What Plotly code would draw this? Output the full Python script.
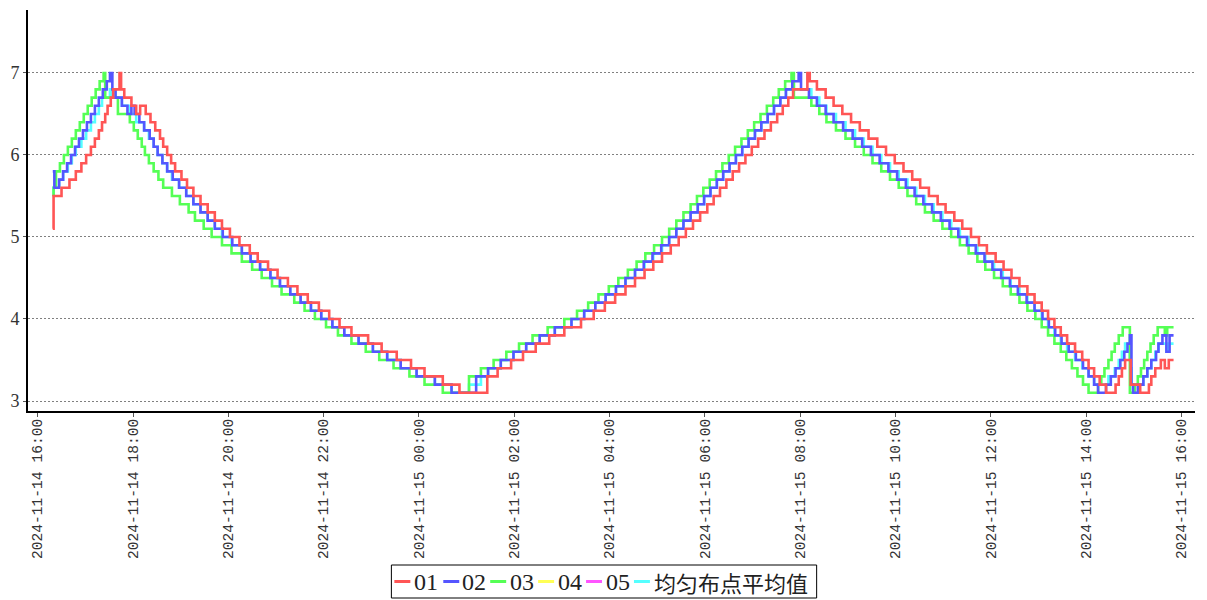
import numpy as np
import pandas as pd
import plotly.graph_objects as go

BASE = pd.Timestamp("2024-11-14 16:00")

# ---- data: (minutes after 2024-11-14 16:00, value) at each change of the stepped series ----
red_steps = [
    (19, 5.1), (20, 5.5), (30, 5.6), (40, 5.7), (48, 5.8), (55, 5.9), (61, 6.0), (67, 6.1), (72, 6.2), (77, 6.3),
    (81, 6.4), (85, 6.5), (88, 6.6), (92, 6.7), (95, 6.8), (103, 7.0), (105, 6.8), (109, 6.7), (118, 6.6), (124, 6.5),
    (129, 6.6), (136, 6.5), (142, 6.4), (148, 6.3), (154, 6.2), (158, 6.1), (163, 6.0), (168, 5.9), (173, 5.8), (181, 5.7),
    (188, 5.6), (196, 5.5), (205, 5.4), (214, 5.3), (223, 5.2), (232, 5.1), (242, 5.0), (254, 4.9), (267, 4.8), (277, 4.7),
    (290, 4.6), (302, 4.5), (315, 4.4), (327, 4.3), (340, 4.2), (354, 4.1), (367, 4.0), (380, 3.9), (395, 3.8), (416, 3.7),
    (433, 3.6), (452, 3.5), (470, 3.4), (487, 3.3), (510, 3.2), (531, 3.1), (566, 3.3), (579, 3.4), (596, 3.5), (611, 3.6),
    (627, 3.7), (644, 3.8), (663, 3.9), (684, 4.0), (700, 4.1), (714, 4.2), (727, 4.3), (740, 4.4), (752, 4.5), (764, 4.6),
    (775, 4.7), (786, 4.8), (797, 4.9), (807, 5.0), (816, 5.1), (825, 5.2), (834, 5.3), (843, 5.4), (851, 5.5), (859, 5.6),
    (867, 5.7), (875, 5.8), (883, 5.9), (891, 6.0), (899, 6.1), (907, 6.2), (915, 6.3), (923, 6.4), (931, 6.5), (938, 6.6),
    (945, 6.7), (951, 6.8), (969, 7.0), (972, 6.9), (981, 6.8), (992, 6.7), (1002, 6.6), (1013, 6.5), (1024, 6.4), (1035, 6.3),
    (1046, 6.2), (1057, 6.1), (1068, 6.0), (1079, 5.9), (1090, 5.8), (1101, 5.7), (1111, 5.6), (1122, 5.5), (1133, 5.4), (1143, 5.3),
    (1154, 5.2), (1164, 5.1), (1175, 5.0), (1185, 4.9), (1195, 4.8), (1206, 4.7), (1216, 4.6), (1226, 4.5), (1236, 4.4), (1246, 4.3),
    (1255, 4.2), (1264, 4.1), (1272, 4.0), (1280, 3.9), (1288, 3.8), (1296, 3.7), (1306, 3.6), (1315, 3.5), (1323, 3.4), (1330, 3.3),
    (1337, 3.2), (1345, 3.1), (1357, 3.2), (1361, 3.3), (1365, 3.4), (1369, 3.5), (1376, 3.2), (1388, 3.1), (1399, 3.2), (1402, 3.3),
    (1407, 3.4), (1414, 3.5), (1419, 3.4), (1424, 3.5), (1430, 3.5),
]

blue_steps = [
    (19, 5.8), (21, 5.6), (27, 5.7), (32, 5.8), (37, 5.9), (42, 6.0), (47, 6.1), (52, 6.2), (57, 6.3), (62, 6.4),
    (67, 6.5), (72, 6.6), (77, 6.7), (82, 6.8), (87, 6.9), (91, 7.0), (94, 6.8), (98, 6.7), (106, 6.6), (113, 6.5),
    (118, 6.6), (122, 6.5), (128, 6.4), (134, 6.3), (141, 6.2), (146, 6.1), (151, 6.0), (157, 5.9), (163, 5.8), (170, 5.7),
    (178, 5.6), (187, 5.5), (196, 5.4), (205, 5.3), (214, 5.2), (223, 5.1), (233, 5.0), (245, 4.9), (257, 4.8), (268, 4.7),
    (280, 4.6), (293, 4.5), (305, 4.4), (318, 4.3), (331, 4.2), (344, 4.1), (357, 4.0), (371, 3.9), (386, 3.8), (404, 3.7),
    (422, 3.6), (440, 3.5), (457, 3.4), (477, 3.3), (500, 3.2), (521, 3.1), (552, 3.3), (567, 3.4), (583, 3.5), (599, 3.6),
    (615, 3.7), (632, 3.8), (651, 3.9), (672, 4.0), (688, 4.1), (702, 4.2), (715, 4.3), (728, 4.4), (740, 4.5), (752, 4.6),
    (763, 4.7), (774, 4.8), (785, 4.9), (795, 5.0), (804, 5.1), (813, 5.2), (822, 5.3), (831, 5.4), (839, 5.5), (847, 5.6),
    (855, 5.7), (863, 5.8), (871, 5.9), (879, 6.0), (887, 6.1), (895, 6.2), (903, 6.3), (911, 6.4), (919, 6.5), (927, 6.6),
    (935, 6.7), (942, 6.8), (950, 6.9), (958, 7.0), (961, 6.8), (971, 6.7), (981, 6.6), (992, 6.5), (1002, 6.4), (1014, 6.3),
    (1026, 6.2), (1038, 6.1), (1049, 6.0), (1060, 5.9), (1071, 5.8), (1082, 5.7), (1093, 5.6), (1104, 5.5), (1115, 5.4), (1126, 5.3),
    (1137, 5.2), (1148, 5.1), (1159, 5.0), (1170, 4.9), (1181, 4.8), (1192, 4.7), (1202, 4.6), (1213, 4.5), (1224, 4.4), (1234, 4.3),
    (1245, 4.2), (1255, 4.1), (1265, 4.0), (1273, 3.9), (1281, 3.8), (1289, 3.7), (1298, 3.6), (1307, 3.5), (1316, 3.4), (1323, 3.3),
    (1330, 3.2), (1335, 3.1), (1345, 3.2), (1351, 3.3), (1357, 3.4), (1363, 3.5), (1368, 3.6), (1372, 3.7), (1375, 3.8), (1377, 3.2),
    (1379, 3.1), (1385, 3.2), (1392, 3.3), (1397, 3.4), (1402, 3.5), (1408, 3.6), (1411, 3.7), (1416, 3.8), (1421, 3.6), (1425, 3.8),
    (1430, 3.8),
]

green_steps = [
    (19, 5.5), (20, 5.6), (23, 5.8), (28, 5.9), (33, 6.0), (38, 6.1), (43, 6.2), (48, 6.3), (53, 6.4), (58, 6.5),
    (63, 6.6), (68, 6.7), (73, 6.8), (78, 6.9), (83, 7.0), (85, 6.7), (101, 6.5), (116, 6.4), (121, 6.3), (126, 6.2),
    (131, 6.1), (135, 6.0), (140, 5.9), (146, 5.8), (152, 5.7), (158, 5.6), (169, 5.5), (179, 5.4), (190, 5.3), (198, 5.2),
    (209, 5.1), (219, 5.0), (232, 4.9), (244, 4.8), (257, 4.7), (270, 4.6), (282, 4.5), (295, 4.4), (307, 4.3), (323, 4.2),
    (336, 4.1), (349, 4.0), (363, 3.9), (378, 3.8), (395, 3.7), (413, 3.6), (430, 3.5), (448, 3.4), (468, 3.3), (487, 3.2),
    (510, 3.1), (543, 3.3), (558, 3.4), (574, 3.5), (590, 3.6), (606, 3.7), (623, 3.8), (642, 3.9), (663, 4.0), (679, 4.1),
    (693, 4.2), (706, 4.3), (719, 4.4), (731, 4.5), (743, 4.6), (754, 4.7), (765, 4.8), (776, 4.9), (786, 5.0), (795, 5.1),
    (804, 5.2), (813, 5.3), (822, 5.4), (830, 5.5), (838, 5.6), (846, 5.7), (854, 5.8), (862, 5.9), (870, 6.0), (878, 6.1),
    (886, 6.2), (894, 6.3), (902, 6.4), (910, 6.5), (918, 6.6), (926, 6.7), (933, 6.8), (941, 6.9), (949, 7.0), (952, 6.7),
    (974, 6.6), (984, 6.5), (993, 6.4), (1005, 6.3), (1017, 6.2), (1029, 6.1), (1040, 6.0), (1051, 5.9), (1062, 5.8), (1073, 5.7),
    (1084, 5.6), (1095, 5.5), (1106, 5.4), (1117, 5.3), (1128, 5.2), (1139, 5.1), (1150, 5.0), (1161, 4.9), (1172, 4.8), (1183, 4.7),
    (1193, 4.6), (1204, 4.5), (1215, 4.4), (1225, 4.3), (1236, 4.2), (1246, 4.1), (1256, 4.0), (1264, 3.9), (1272, 3.8), (1280, 3.7),
    (1288, 3.6), (1295, 3.5), (1302, 3.4), (1309, 3.3), (1316, 3.2), (1323, 3.1), (1335, 3.2), (1339, 3.3), (1343, 3.4), (1348, 3.5),
    (1352, 3.6), (1356, 3.7), (1361, 3.8), (1366, 3.9), (1375, 3.1), (1381, 3.2), (1385, 3.3), (1389, 3.4), (1393, 3.5), (1397, 3.6),
    (1401, 3.7), (1405, 3.8), (1410, 3.9), (1419, 3.8), (1422, 3.9), (1430, 3.9),
]

series_names = ["01", "02", "03", "04", "05", "均匀布点平均值"]
series_colors = ["#FF5555", "#5555FF", "#55FF55", "#FFFF55", "#FF55FF", "#55FFFF"]
y_ticks = [3, 4, 5, 6, 7]
x_tick_start = "2024-11-14 16:00"
x_tick_end = "2024-11-15 16:00"


def split(steps):
    m = np.array([s[0] for s in steps], dtype=float)
    v = np.array([s[1] for s in steps], dtype=float)
    return m, v


red_min, red_val = split(red_steps)
blue_min, blue_val = split(blue_steps)
green_min, green_val = split(green_steps)


def to_time(mins):
    return BASE + pd.to_timedelta(np.asarray(mins, dtype=float), unit="min")


def step_values(mins, vals, grid):
    idx = np.searchsorted(mins, grid, side="right") - 1
    return vals[idx]


# "均匀布点平均值" is by definition the mean of the stations that report (04 / 05 have no data)
grid = np.arange(19, 1431)
avg_full = np.round((step_values(red_min, red_val, grid) + step_values(blue_min, blue_val, grid)
                     + step_values(green_min, green_val, grid)) / 3.0, 1)
keep = np.r_[True, avg_full[1:] != avg_full[:-1]]
keep[-1] = True
avg_min = grid[keep]
avg_val = avg_full[keep]

fig = go.Figure()
LW = 2.6
# drawing order: average lowest, 01 on top
fig.add_trace(go.Scatter(x=to_time(avg_min), y=avg_val, mode="lines",
                         line=dict(color=series_colors[5], width=LW, shape="hv"), name=series_names[5]))
fig.add_trace(go.Scatter(x=[], y=[], mode="lines", line=dict(color=series_colors[4], width=LW), name=series_names[4]))
fig.add_trace(go.Scatter(x=[], y=[], mode="lines", line=dict(color=series_colors[3], width=LW), name=series_names[3]))
fig.add_trace(go.Scatter(x=to_time(green_min), y=green_val, mode="lines",
                         line=dict(color=series_colors[2], width=LW, shape="hv"), name=series_names[2]))
fig.add_trace(go.Scatter(x=to_time(blue_min), y=blue_val, mode="lines",
                         line=dict(color=series_colors[1], width=LW, shape="hv"), name=series_names[1]))
fig.add_trace(go.Scatter(x=to_time(red_min), y=red_val, mode="lines",
                         line=dict(color=series_colors[0], width=LW, shape="hv"), name=series_names[0]))

# plot area in pixels
PL, PR, PT, PB = 26, 1195, 10, 411
W, H = 1207, 600


def px(x):
    return (x - PL) / (PR - PL)


def py(y):
    return (PB - y) / (PB - PT)


x_range = [BASE - pd.Timedelta(minutes=12.2), BASE + pd.Timedelta(minutes=1457)]
tickvals = pd.date_range(x_tick_start, x_tick_end, freq="2h")

fig.update_layout(
    width=W, height=H,
    margin=dict(l=PL, r=W - PR, t=PT, b=H - PB, pad=0),
    paper_bgcolor="white", plot_bgcolor="white",
    showlegend=False,
    xaxis=dict(range=x_range, tickvals=tickvals, tickformat="%Y-%m-%d %H:%M", tickangle=-90,
               showgrid=False, zeroline=False, showline=True, linecolor="black", linewidth=2,
               ticks="outside", ticklen=4, tickcolor="#555", tickwidth=1, ticklabelstandoff=-4,
               tickfont=dict(family="Liberation Mono", size=14.6, color="#333")),
    yaxis=dict(range=[2.878, 7.768], tickvals=y_ticks, showgrid=True, gridcolor="#808080", gridwidth=1,
               griddash="2px,2px", zeroline=False, showline=True, linecolor="black", linewidth=2,
               ticks="outside", ticklen=3, tickcolor="#555", tickwidth=1,
               tickfont=dict(family="Liberation Serif", size=18, color="#333")),
)

# legend box drawn below the plot
legend_items = [
    (series_names[0], series_colors[0], 393, 411),
    (series_names[1], series_colors[1], 442, 459),
    (series_names[2], series_colors[2], 489, 507),
    (series_names[3], series_colors[3], 537, 555),
    (series_names[4], series_colors[4], 585, 603),
    (series_names[5], series_colors[5], 633, 651),
]
shapes = [dict(type="rect", xref="paper", yref="paper", x0=px(390), x1=px(816), y0=py(598), y1=py(565),
               line=dict(color="black", width=1), fillcolor="rgba(0,0,0,0)", layer="above")]
annotations = []
LEG_Y = 581.5
for name, color, lx, tx in legend_items:
    shapes.append(dict(type="line", xref="paper", yref="paper", x0=px(lx), x1=px(lx + 16), y0=py(LEG_Y), y1=py(LEG_Y),
                       line=dict(color=color, width=3)))
    if name == series_names[5]:
        font = dict(family="Noto Sans CJK SC", size=22, color="#222")
    else:
        font = dict(family="Liberation Serif", size=24, color="#222")
    annotations.append(dict(text=name, xref="paper", yref="paper", x=px(tx), y=py(LEG_Y), xanchor="left",
                            yanchor="middle", showarrow=False, font=font))
fig.update_layout(shapes=shapes, annotations=annotations)

fig.write_html("out.html", config={"displayModeBar": False},
               post_script="document.body.style.margin='0';")
